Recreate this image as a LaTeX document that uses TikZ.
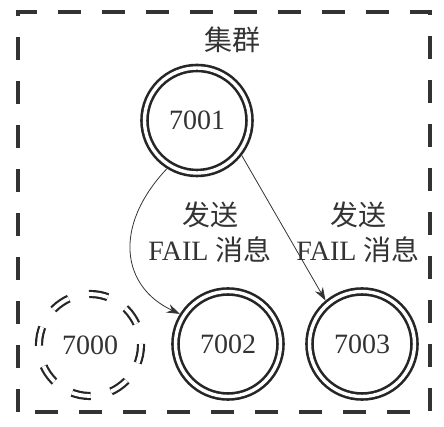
\documentclass[tikz,border=0pt]{standalone}
\usepackage{fontspec}
\setmainfont{Liberation Serif}
\newfontfamily\cjk{Noto Sans CJK SC}
\usetikzlibrary{arrows.meta}
\tikzset{
  dbl/.style={circle, draw=black!85, line width=2.6pt, double, double distance=3.4pt,
    minimum size=105pt, inner sep=0pt, outer sep=4.3pt, font=\fontsize{28}{30}\selectfont, text=black!80},
  dbldash/.style={circle, draw=black!85, line width=2.2pt, double, double distance=3.8pt,
    minimum size=102pt, inner sep=0pt, font=\fontsize{28}{30}\selectfont, text=black!80,
    dash pattern=on 19pt off 21pt, dash phase=18pt},
  lbl/.style={align=center, font=\fontsize{28}{32}\selectfont, text=black!80},
  arr/.style={line width=0.8pt, draw=black!80, -{Stealth[length=13pt,width=9pt]}},
  frame/.style={draw=black!80, line width=4pt, dash pattern=on 23pt off 21pt}
}
\begin{document}
\begin{tikzpicture}[x=1pt,y=1pt]
\useasboundingbox (0,0) rectangle (444,427);
\draw[frame] (18,15) -- (18,415) -- (430,415) -- (430,15) -- cycle;
\node[lbl] (title) at (232,387) {\cjk 集群};
\node[dbl] (n7001) at (197,306.5) {7001};
\node[dbl] (n7002) at (228,83) {7002};
\node[dbl] (n7003) at (362,83) {7003};
\node[dbldash] (n7000) at (90,82) {7000};
\node[lbl] (l1a) at (210,212) {\cjk 发送};
\node[lbl] (l1b) at (210,177) {FAIL {\cjk 消息}};
\node[lbl] (l2a) at (358,212) {\cjk 发送};
\node[lbl] (l2b) at (358,177) {FAIL {\cjk 消息}};
\draw[arr] (n7001.238) .. controls (112,200) and (122,140) .. (n7002.148);
\draw[arr] (n7001.-38) -- (n7003.130);
\end{tikzpicture}
\end{document}
